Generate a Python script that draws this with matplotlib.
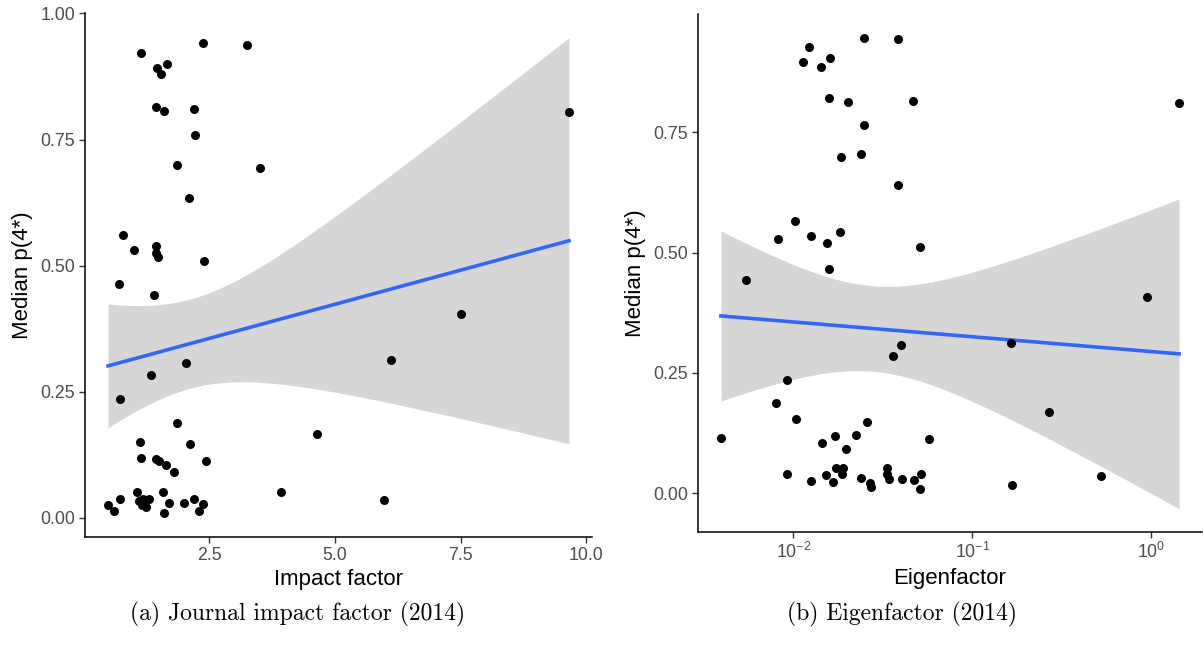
"""
plot.py

Median p(4*) per journal against impact factor and Eigenfactor (2014),
each with a linear fit and its 95% confidence band.
"""

import matplotlib

matplotlib.use("Agg")
import matplotlib.pyplot as plt
import numpy as np
from matplotlib.ticker import FormatStrFormatter, LogLocator, NullLocator

# Panel (a): journal impact factor vs median p(4*)
impact_x = [
    1.13, 2.37, 3.24, 1.46, 1.65, 1.53, 1.43, 1.59, 2.19, 2.22,
    1.85, 3.51, 2.09, 0.77, 1.00, 1.43, 1.44, 1.47, 2.39, 0.69,
    1.39, 2.03, 1.33, 0.71, 1.85, 1.11, 2.12, 1.13, 1.43, 1.50,
    1.63, 1.80, 2.43, 4.64, 3.93, 1.06, 1.57, 0.71, 0.48, 0.60,
    1.10, 1.18, 1.29, 1.24, 1.15, 1.69, 1.59, 1.99, 2.19, 2.37,
    2.29, 9.66, 7.50, 6.11, 5.98,
]
impact_y = [
    0.921, 0.941, 0.937, 0.892, 0.899, 0.880, 0.815, 0.806, 0.811, 0.760,
    0.699, 0.693, 0.635, 0.561, 0.531, 0.539, 0.525, 0.517, 0.509, 0.463,
    0.441, 0.306, 0.283, 0.235, 0.187, 0.151, 0.146, 0.119, 0.117, 0.112,
    0.104, 0.091, 0.112, 0.167, 0.051, 0.051, 0.051, 0.038, 0.025, 0.014,
    0.034, 0.037, 0.038, 0.021, 0.025, 0.029, 0.009, 0.029, 0.038, 0.027,
    0.014, 0.805, 0.404, 0.312, 0.035,
]

# Panel (b): Eigenfactor vs median p(4*)
eigen_x = [
    0.0247, 0.0386, 0.01222, 0.01127, 0.01596, 0.01416, 0.01581, 0.02029, 0.04656, 0.0247,
    0.01845, 0.02388, 0.0386, 0.01026, 0.00817, 0.01245, 0.0182, 0.01541, 0.0509, 0.01589,
    0.0054, 0.0397, 0.0359, 0.00918, 0.0080, 0.01031, 0.02576, 0.00393, 0.01702, 0.02249,
    0.01452, 0.01977, 0.05754, 0.00918, 0.01253, 0.01528, 0.01718, 0.01894, 0.01871, 0.01671,
    0.02399, 0.0268, 0.02702, 0.03321, 0.03349, 0.0342, 0.04064, 0.04698, 0.05188, 0.05081,
    1.43, 0.95, 0.1637, 0.2667, 0.167, 0.526,
]
eigen_y = [
    0.947, 0.943, 0.927, 0.897, 0.905, 0.885, 0.821, 0.812, 0.816, 0.765,
    0.698, 0.705, 0.640, 0.566, 0.528, 0.534, 0.542, 0.520, 0.512, 0.466,
    0.444, 0.308, 0.286, 0.236, 0.188, 0.153, 0.147, 0.114, 0.118, 0.120,
    0.104, 0.092, 0.112, 0.039, 0.026, 0.038, 0.052, 0.052, 0.039, 0.023,
    0.031, 0.021, 0.013, 0.052, 0.039, 0.029, 0.030, 0.028, 0.039, 0.009,
    0.810, 0.407, 0.313, 0.169, 0.016, 0.035,
]

T_CRIT = 2.005  # t(0.975, ~53 df)

plt.rcParams["font.family"] = ["Liberation Sans", "DejaVu Sans"]
plt.rcParams["mathtext.default"] = "regular"

TICK_GREY = "#4D4D4D"


def lm_band(x, y, n_grid=80):
    """Linear fit of y on x with a 95% confidence band, like geom_smooth(method='lm')."""
    x = np.asarray(x, float)
    y = np.asarray(y, float)
    n = len(x)
    b1, b0 = np.polyfit(x, y, 1)
    resid = y - (b0 + b1 * x)
    s = np.sqrt(np.sum(resid**2) / (n - 2))
    sxx = np.sum((x - x.mean()) ** 2)
    grid = np.linspace(x.min(), x.max(), n_grid)
    fit = b0 + b1 * grid
    se = s * np.sqrt(1.0 / n + (grid - x.mean()) ** 2 / sxx)
    return grid, fit, fit - T_CRIT * se, fit + T_CRIT * se


def expand(lo, hi, frac=0.05):
    pad = (hi - lo) * frac
    return lo - pad, hi + pad


def style_axes(ax):
    for side in ("top", "right"):
        ax.spines[side].set_visible(False)
    for side in ("left", "bottom"):
        ax.spines[side].set_linewidth(1.1)
    ax.tick_params(length=4, width=1.0, color="#333333", labelsize=12.8,
                   labelcolor=TICK_GREY, pad=3)


def draw_panel(ax, x, y, log_x=False):
    x = np.asarray(x, float)
    y = np.asarray(y, float)
    xt = np.log10(x) if log_x else x
    grid, fit, lo, hi = lm_band(xt, y)
    gx = 10**grid if log_x else grid

    ax.fill_between(gx, lo, hi, color="#999999", alpha=0.4, lw=0, zorder=1)
    ax.plot(gx, fit, color="#3366FF", lw=2.6, zorder=2)
    ax.scatter(x, y, s=42, color="black", lw=0, zorder=3)

    x0, x1 = expand(xt.min(), xt.max())
    if log_x:
        ax.set_xscale("log")
        ax.set_xlim(10**x0, 10**x1)
    else:
        ax.set_xlim(x0, x1)
    ax.set_ylim(*expand(min(y.min(), lo.min()), max(y.max(), hi.max())))
    ax.set_ylabel("Median p(4*)", fontsize=16, labelpad=5)
    style_axes(ax)


fig = plt.figure(figsize=(12.03, 6.46), dpi=100)
W, H = 1203, 646

ax_a = fig.add_axes([85 / W, (H - 537) / H, (592 - 85) / W, (537 - 13.5) / H])
draw_panel(ax_a, impact_x, impact_y)
ax_a.set_xticks([2.5, 5.0, 7.5, 10.0])
ax_a.set_yticks([0.0, 0.25, 0.5, 0.75, 1.0])
ax_a.xaxis.set_major_formatter(FormatStrFormatter("%.1f"))
ax_a.yaxis.set_major_formatter(FormatStrFormatter("%.2f"))
ax_a.set_xlabel("Impact factor", fontsize=16, labelpad=4)

ax_b = fig.add_axes([698 / W, (H - 532.3) / H, (1202 - 698) / W, (532.3 - 14) / H])
draw_panel(ax_b, eigen_x, eigen_y, log_x=True)
ax_b.xaxis.set_major_locator(LogLocator(base=10, numticks=10))
ax_b.xaxis.set_minor_locator(NullLocator())
ax_b.set_yticks([0.0, 0.25, 0.5, 0.75])
ax_b.yaxis.set_major_formatter(FormatStrFormatter("%.2f"))
ax_b.set_xlabel("Eigenfactor", fontsize=16, labelpad=4)

fig.text(298 / W, (H - 614) / H, "(a) Journal impact factor (2014)",
         fontfamily="cmr10", fontsize=17, ha="center", va="center")
fig.text(902 / W, (H - 614) / H, "(b) Eigenfactor (2014)",
         fontfamily="cmr10", fontsize=17, ha="center", va="center")

fig.savefig("out.png", dpi=100)
